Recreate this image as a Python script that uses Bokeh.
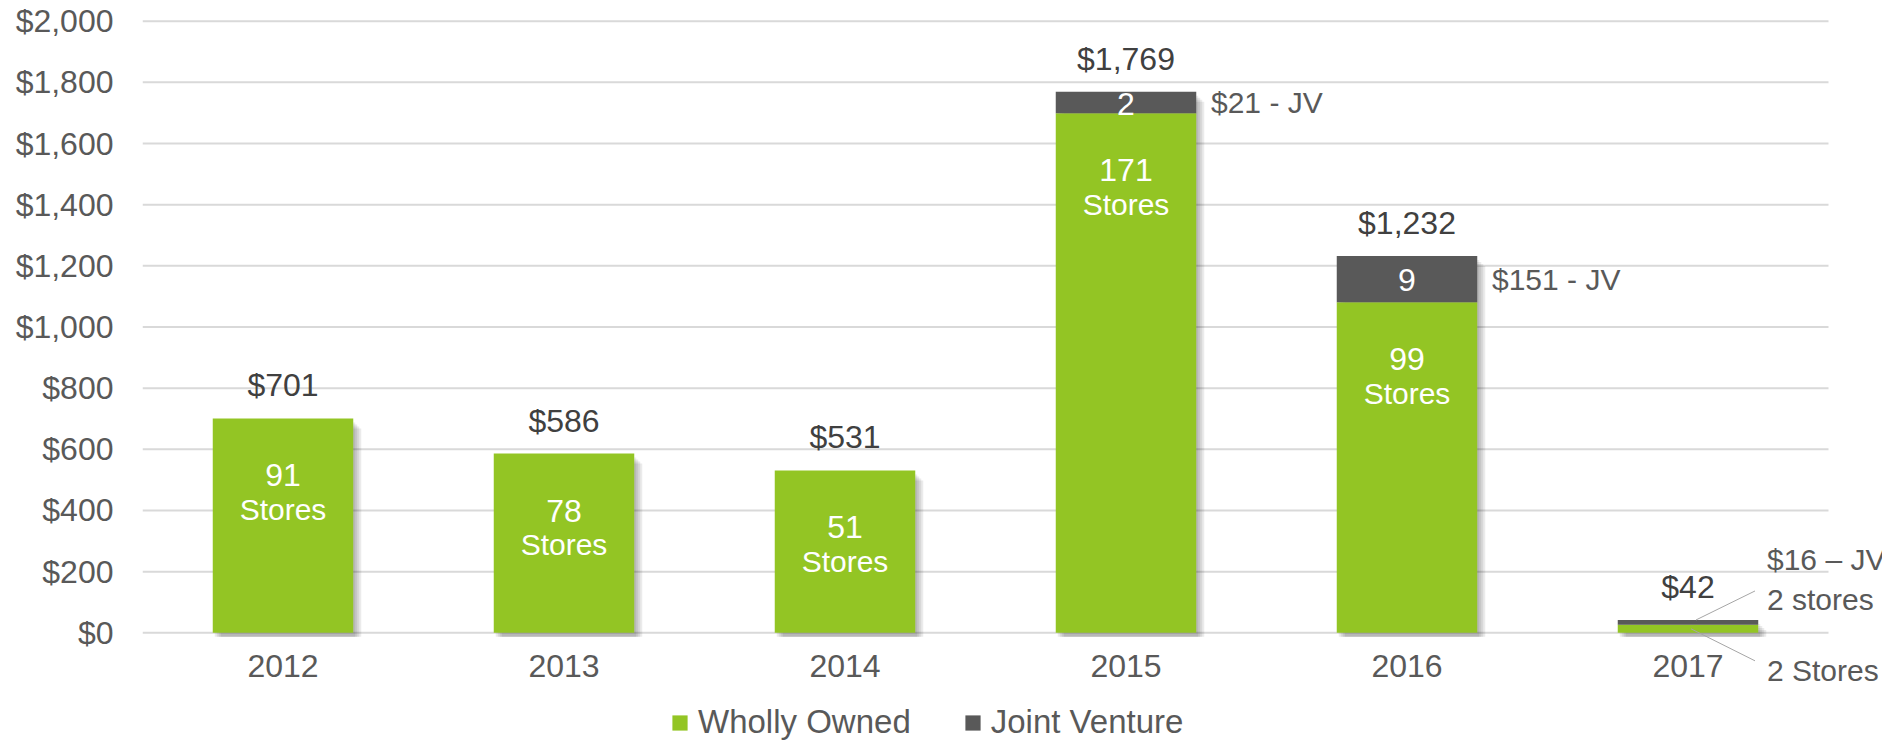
from bokeh.plotting import figure
from bokeh.models import (ColumnDataSource, Range1d, FixedTicker, NumeralTickFormatter,
                          LabelSet, Legend, LegendItem, Label, LinearAxis)
from bokeh.core.properties import value
from bokeh.embed import file_html
from bokeh.resources import INLINE

# ---------------- data ----------------
years = ["2012", "2013", "2014", "2015", "2016", "2017"]
wholly_owned = [701, 586, 531, 1699, 1081, 26]      # drawn height of green segment ($M)
joint_venture = [0, 0, 0, 70, 151, 16]              # drawn height of grey segment ($M)
total_labels = ["$701", "$586", "$531", "$1,769", "$1,232", "$42"]
store_counts = ["91", "78", "51", "171", "99", ""]
jv_store_counts = ["", "", "", "2", "9", ""]
jv_labels = ["", "", "", "$21 - JV", "$151 - JV", ""]
notes_2017 = ["$16 \u2013 JV", "2 stores", "2 Stores"]
y_ticks = [0, 200, 400, 600, 800, 1000, 1200, 1400, 1600, 1800, 2000]

# ---------------- style / layout ----------------
GREEN = "#93C524"
GREY = "#595959"
TXT = "#404040"
AX = "#595959"
FONT = "Liberation Sans"
FS = "32px"      # numeric labels
FS_T = "30px"    # word labels

W, H = 1882, 741
BL = 142                      # frame left (plot area of the categories starts here)
CAT_PX = 281.0                # pixels per category
Y0_PX, Y2000_PX = 632.3, 20.7 # pixel rows of $0 and $2,000
PX_Y = (Y0_PX - Y2000_PX) / 2000.0

n = len(years)
xs = [i + 0.5 for i in range(n)]
totals = [a + b for a, b in zip(wholly_owned, joint_venture)]

src = ColumnDataSource(dict(
    x=xs,
    wo=wholly_owned,
    jv=joint_venture,
    total=totals,
    jv_mid=[a + b / 2 for a, b in zip(wholly_owned, joint_venture)],
    total_label=total_labels,
    count=store_counts,
    word=["Stores" if c else "" for c in store_counts],
    jv_count=jv_store_counts,
    jv_label=jv_labels,
))

x_end = (W - BL) / CAT_PX
y_start = -(H - Y0_PX) / PX_Y
y_end = 2000 + Y2000_PX / PX_Y

p = figure(width=W, height=H, x_range=Range1d(0, x_end), y_range=Range1d(y_start, y_end),
           output_backend="svg", toolbar_location=None, x_axis_location=None,
           min_border_left=BL, min_border_right=0, min_border_top=0, min_border_bottom=0)
p.xgrid.grid_line_color = None
p.ygrid.grid_line_color = None
p.outline_line_color = None

# horizontal gridlines over the category area only
p.segment(x0=[0] * len(y_ticks), x1=[n] * len(y_ticks), y0=y_ticks, y1=y_ticks,
          line_color="#D9D9D9", line_width=2, level="underlay")

# soft drop shadows
for k in (2, 4, 6, 8):
    sh = ColumnDataSource(dict(x=[v + k / CAT_PX for v in xs],
                               top=[t - (k + 2) / PX_Y for t in totals],
                               bottom=[-4 / PX_Y] * n))
    p.vbar(x="x", top="top", bottom="bottom", width=0.5, source=sh,
           fill_color="black", fill_alpha=0.08, line_color=None)

rs = p.vbar_stack(["wo", "jv"], x="x", width=0.5, color=[GREEN, GREY],
                  line_color=None, source=src)

# ---------------- labels ----------------
common = dict(source=src, text_font=value(FONT), text_baseline="middle")
p.add_layout(LabelSet(x="x", y="total", text="total_label", y_offset=33, text_font_size=FS,
                      text_align="center", text_color=TXT, **common))
p.add_layout(LabelSet(x="x", y="wo", text="count", y_offset=-57, text_font_size=FS,
                      text_align="center", text_color="white", **common))
p.add_layout(LabelSet(x="x", y="wo", text="word", y_offset=-91, text_font_size=FS_T,
                      text_align="center", text_color="white", **common))
p.add_layout(LabelSet(x="x", y="jv_mid", text="jv_count", y_offset=-1, text_font_size=FS,
                      text_align="center", text_color="white", **common))
p.add_layout(LabelSet(x="x", y="jv_mid", text="jv_label", x_offset=85, text_font_size=FS_T,
                      text_align="left", text_color=AX, **common))

# 2017 call-outs
i17 = xs[years.index("2017")]
t17 = totals[-1]
for txt, dy in zip(notes_2017, (60, 20, -51)):
    p.add_layout(Label(x=i17, y=t17, x_offset=79, y_offset=dy, text=txt,
                       text_font=FONT, text_font_size=FS_T, text_color=AX,
                       text_baseline="middle", text_align="left"))
p.segment(x0=[i17 + 8 / CAT_PX, i17 + 3 / CAT_PX],
          y0=[t17, wholly_owned[-1] / 2],
          x1=[i17 + 67 / CAT_PX, i17 + 67 / CAT_PX],
          y1=[t17 + 29 / PX_Y, wholly_owned[-1] / 2 - 32 / PX_Y],
          line_color="#A6A6A6", line_width=1)

# ---------------- axes ----------------
p.yaxis.ticker = FixedTicker(ticks=y_ticks)
p.yaxis.formatter = NumeralTickFormatter(format="$0,0")
p.yaxis.major_label_standoff = 29

xaxis = LinearAxis(ticker=FixedTicker(ticks=xs),
                   major_label_overrides={v: y for v, y in zip(xs, years)},
                   fixed_location=0, major_label_standoff=22)
p.add_layout(xaxis, "below")

for ax in (xaxis, p.yaxis[0]):
    ax.axis_line_color = None
    ax.major_tick_line_color = None
    ax.minor_tick_line_color = None
    ax.major_tick_out = 0
    ax.major_tick_in = 0
    ax.major_label_text_font = FONT
    ax.major_label_text_font_size = FS
    ax.major_label_text_color = AX

legend = Legend(items=[LegendItem(label="Wholly Owned", renderers=[rs[0]]),
                       LegendItem(label="Joint Venture", renderers=[rs[1]])],
                location=(528, 0), orientation="horizontal",
                label_text_font=FONT, label_text_font_size="33px",
                label_text_color=AX, glyph_width=19, glyph_height=19,
                label_standoff=9, spacing=52, padding=0, margin=0,
                border_line_color=None, background_fill_alpha=0)
p.add_layout(legend)

open("out.html", "w").write(file_html(p, INLINE))
